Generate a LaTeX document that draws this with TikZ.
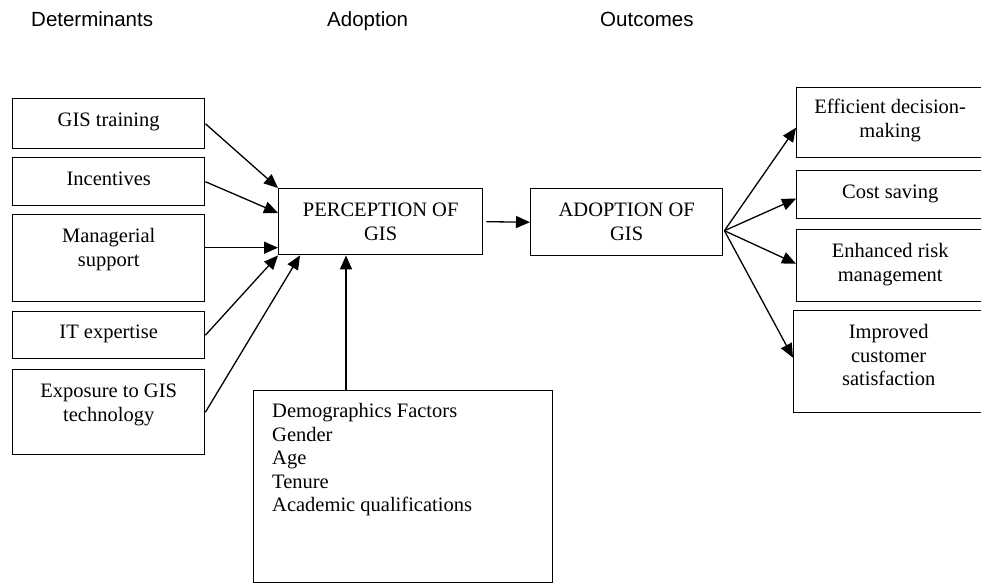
\documentclass[tikz,border=0pt]{standalone}
\usepackage{fontspec}
\setmainfont{Liberation Serif}
\newfontfamily\hdrfont{Liberation Sans}
\usetikzlibrary{arrows.meta,calc}
\newcommand{\bxt}[4]{\parbox[t][#2][t]{#1}{\centering\rule{0pt}{#3}#4}}
\begin{document}
\begin{tikzpicture}[x=1pt,y=-1pt,
  box/.style={draw, line width=1.4pt, inner sep=0pt, anchor=north west, font=\fontsize{20.5}{23.5}\selectfont},
  arr/.style={line width=1.3pt, -{Triangle[length=14pt,width=12pt]}},
  hdr/.style={anchor=base west, inner sep=0pt, font=\hdrfont\fontsize{20.5}{24}\selectfont}]
\useasboundingbox (0,0) rectangle (981,583);
\clip (0,0) rectangle (981,583);
% headers
\node[hdr] (h1) at (31,26.7) {Determinants};
\node[hdr] (h2) at (327,26.7) {Adoption};
\node[hdr] (h3) at (600,26.7) {Outcomes};
% determinants
\node[box] (gis) at (12,98) {\bxt{192pt}{50pt}{28pt}{GIS training}};
\node[box] (inc) at (12,157) {\bxt{192pt}{48pt}{28pt}{Incentives}};
\node[box] (mgr) at (12,214) {\bxt{192pt}{87pt}{28pt}{Managerial\\support}};
\node[box] (itx) at (12,311) {\bxt{192pt}{47pt}{27pt}{IT expertise}};
\node[box] (exp) at (12,369) {\bxt{192pt}{85pt}{28pt}{Exposure to GIS\\technology}};
% centre
\node[box] (perc) at (278,188) {\bxt{204pt}{66pt}{28pt}{PERCEPTION OF\\GIS}};
\node[box] (adop) at (530,188) {\bxt{192pt}{67pt}{28pt}{ADOPTION OF\\GIS}};
% outcomes
\node[box] (eff) at (796,87) {\bxt{187pt}{70pt}{26pt}{Efficient decision-\\making}};
\node[box] (cost) at (796,170) {\bxt{187pt}{48pt}{28pt}{Cost saving}};
\node[box] (risk) at (796,229) {\bxt{187pt}{72pt}{28pt}{Enhanced risk\\management}};
\node[box] (cust) at (793,310) {\bxt{190pt}{102pt}{28pt}{Improved\\customer\\satisfaction}};
% demographics
\node[box] (demo) at (252.5,390) {\parbox[t][192pt][t]{299.5pt}{\raggedright\leftskip=19pt\rule{0pt}{27pt}Demographics Factors\\Gender\\Age\\Tenure\\Academic qualifications}};
% connectors
\coordinate (m1) at ($(mgr.east)+(0,-10.5)$);
\coordinate (dx) at (346,0);
\coordinate (o) at ($(adop.east)+(1,8.5)$);
\draw[arr] (gis.east) -- (perc.north west);
\draw[arr] (inc.east) -- ($(perc.north west)+(0,25)$);
\draw[arr] (m1) -- (perc.west |- m1);
\draw[arr] (itx.east) -- (perc.south west);
\draw[arr] (exp.east) -- ($(perc.south west)+(22,0)$);
\draw[arr] ($(perc.east)+(3,0)$) -- (adop.west);
\draw[arr] (demo.north -| dx) -- (perc.south -| dx);
\draw[arr] (o) -- ($(eff.west)+(0,5)$);
\draw[arr] (o) -- ($(cost.west)+(0,4)$);
\draw[arr] (o) -- ($(risk.west)+(0,-2)$);
\draw[arr] (o) -- ($(cust.west)+(0,-4)$);
\end{tikzpicture}
\end{document}
